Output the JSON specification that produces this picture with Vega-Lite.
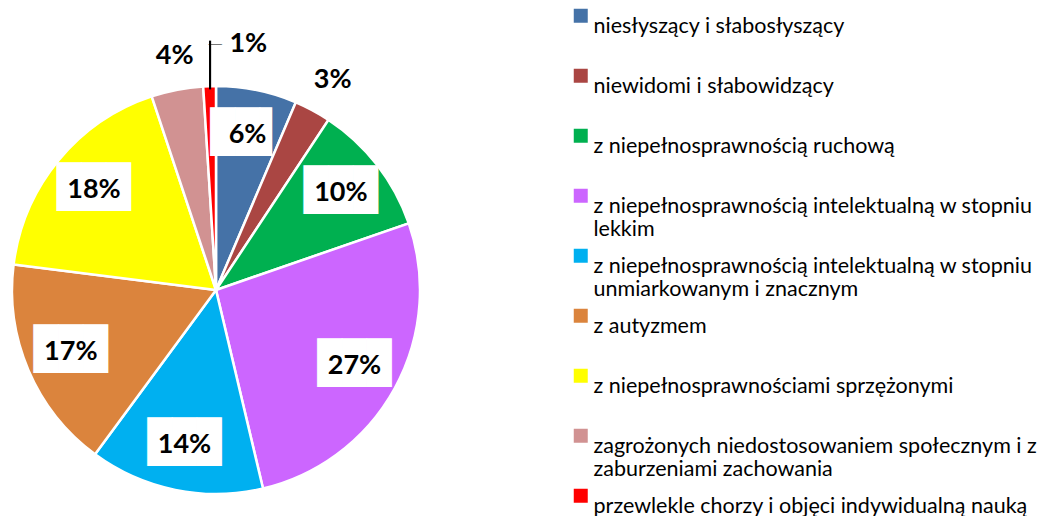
{
  "$schema": "https://vega.github.io/schema/vega-lite/v6.json",
  "width": 432,
  "height": 410,
  "autosize": {"type": "none"},
  "padding": {"left": 0, "top": 85, "right": 621, "bottom": 21},
  "background": "white",
  "config": {"view": {"stroke": null}},
  "data": {
    "values": [
      {"kat": "niesłyszący i słabosłyszący", "share": 0.064, "order": 1},
      {"kat": "niewidomi i słabowidzący", "share": 0.029, "order": 2},
      {"kat": "z niepełnosprawnością ruchową", "share": 0.104, "order": 3},
      {"kat": "z niepełnosprawnością intelektualną w stopniu lekkim", "share": 0.266, "order": 4},
      {"kat": "z niepełnosprawnością intelektualną w stopniu unmiarkowanym i znacznym", "share": 0.138, "order": 5},
      {"kat": "z autyzmem", "share": 0.169, "order": 6},
      {"kat": "z niepełnosprawnościami sprzężonymi", "share": 0.179, "order": 7},
      {"kat": "zagrożonych niedostosowaniem społecznym i z zaburzeniami zachowania", "share": 0.041, "order": 8},
      {"kat": "przewlekle chorzy i objęci indywidualną nauką", "share": 0.010, "order": 9}
    ]
  },
  "encoding": {
    "theta": {"field": "share", "type": "quantitative", "stack": true},
    "order": {"field": "order", "type": "quantitative"},
    "detail": {"field": "kat", "type": "nominal"}
  },
  "layer": [
    {
      "mark": {"type": "arc", "outerRadius": 204, "stroke": "white", "strokeWidth": 2.5},
      "encoding": {
        "color": {
          "field": "kat",
          "type": "nominal",
          "scale": {
            "domain": [
              "niesłyszący i słabosłyszący",
              "niewidomi i słabowidzący",
              "z niepełnosprawnością ruchową",
              "z niepełnosprawnością intelektualną w stopniu lekkim",
              "z niepełnosprawnością intelektualną w stopniu unmiarkowanym i znacznym",
              "z autyzmem",
              "z niepełnosprawnościami sprzężonymi",
              "zagrożonych niedostosowaniem społecznym i z zaburzeniami zachowania",
              "przewlekle chorzy i objęci indywidualną nauką"
            ],
            "range": ["#4572A7", "#AA4643", "#00B050", "#CC66FF", "#00B0F0", "#DB843D", "#FFFF00", "#D19292", "#FF0000"]
          },
          "legend": {
            "orient": "none",
            "legendX": 570,
            "legendY": -80,
            "title": null,
            "symbolType": "square",
            "symbolSize": 196,
            "symbolStrokeWidth": 0,
            "symbolOpacity": 1,
            "labelFont": "Lato",
            "labelFontSize": 21.5,
            "labelColor": "#000000",
            "labelLimit": 600,
            "labelOffset": 2,
            "labelBaseline": "top",
            "rowPadding": 4,
            "labelExpr": "length(datum.label) > 46 ? [substring(datum.label, 0, lastindexof(substring(datum.label, 0, 47), ' ')), substring(datum.label, lastindexof(substring(datum.label, 0, 47), ' ') + 1)] : [datum.label, '']",
            "encode": {"labels": {"lineHeight": {"value": 28}, "dy": {"value": -10}}}
          }
        }
      }
    },
    {
      "mark": {"type": "text", "radius": 158, "font": "DejaVu Sans Mono", "fontSize": 41, "color": "white", "align": "center", "baseline": "middle", "dy": -1},
      "encoding": {
        "text": {"condition": {"test": "datum.share < 0.1", "value": "██▌"}, "value": "███"},
        "opacity": {"condition": {"test": "datum.share >= 0.05", "value": 1}, "value": 0}
      }
    },
    {
      "mark": {"type": "text", "radius": 158, "font": "Lato", "fontWeight": "bold", "fontSize": 27, "color": "black", "align": "center", "baseline": "middle"},
      "encoding": {
        "text": {"field": "share", "type": "quantitative", "format": ".0%"},
        "opacity": {"condition": {"test": "datum.share >= 0.05", "value": 1}, "value": 0}
      }
    },
    {
      "mark": {"type": "text", "radius": 238, "dx": 4, "font": "Lato", "fontWeight": "bold", "fontSize": 27, "color": "black", "align": "center", "baseline": "middle"},
      "encoding": {
        "text": {"field": "share", "type": "quantitative", "format": ".0%"},
        "opacity": {"condition": {"test": "datum.share > 0.02 && datum.share < 0.05", "value": 1}, "value": 0}
      }
    },
    {
      "mark": {"type": "text", "radius": 246, "dx": 40, "font": "Lato", "fontWeight": "bold", "fontSize": 27, "color": "black", "align": "center", "baseline": "middle"},
      "encoding": {
        "text": {"field": "share", "type": "quantitative", "format": ".0%"},
        "opacity": {"condition": {"test": "datum.share < 0.02", "value": 1}, "value": 0}
      }
    },
    {
      "mark": {"type": "text", "radius": 225, "angle": 90, "dy": -2, "font": "DejaVu Sans", "fontWeight": 200, "fontSize": 54, "color": "black", "align": "center", "baseline": "middle", "text": "—"},
      "encoding": {
        "opacity": {"condition": {"test": "datum.share < 0.02", "value": 1}, "value": 0}
      }
    },
    {
      "mark": {"type": "text", "radius": 246, "dx": 7, "font": "DejaVu Sans", "fontWeight": 200, "fontSize": 15, "color": "black", "align": "center", "baseline": "middle", "text": "—"},
      "encoding": {
        "opacity": {"condition": {"test": "datum.share < 0.02", "value": 1}, "value": 0}
      }
    }
  ]
}
